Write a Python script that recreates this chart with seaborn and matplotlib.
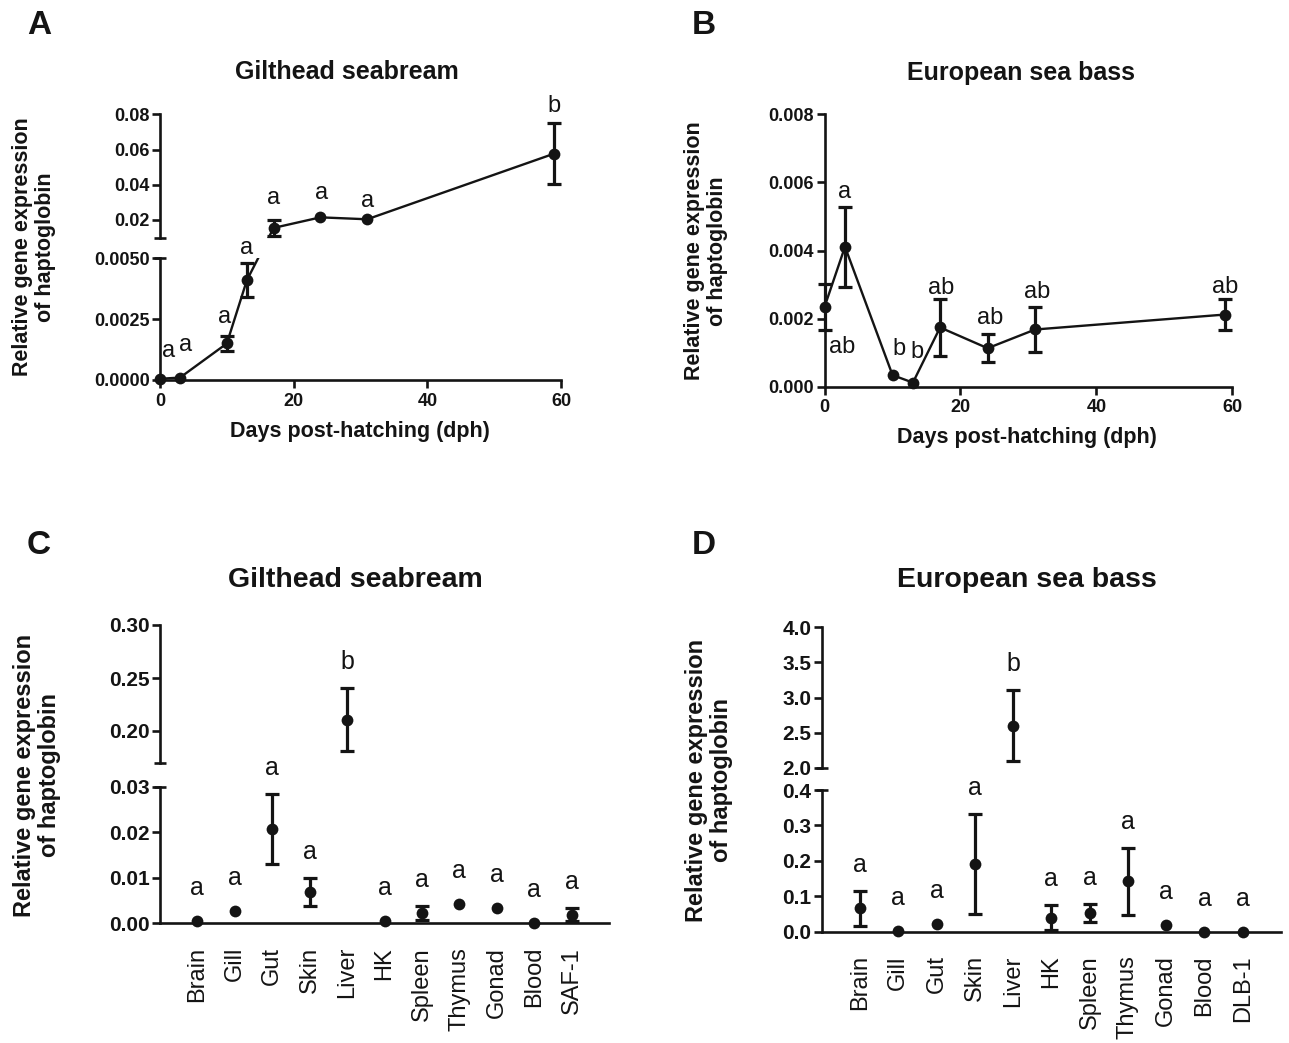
import numpy as np
import matplotlib
matplotlib.use("Agg")
import matplotlib.pyplot as plt
import seaborn as sns

# ---- data ----
days = [0, 3, 10, 13, 17, 24, 31, 59]

seabream_dev_mean = [0.00005, 0.0001, 0.0015, 0.0041, 0.0155, 0.0215, 0.0204, 0.0577]
seabream_dev_err = [0, 0, 0.0003, 0.0007, 0.0045, 0, 0, 0.0174]
seabream_dev_letters = ["a", "a", "a", "a", "a", "a", "a", "b"]

seabass_dev_mean = [0.00235, 0.00411, 0.00034, 0.00012, 0.00174, 0.00113, 0.00168, 0.00212]
seabass_dev_err = [0.00068, 0.00117, 0, 0, 0.00083, 0.00041, 0.00065, 0.00046]
seabass_dev_letters = ["ab", "a", "b", "b", "ab", "ab", "ab", "ab"]

seabream_tissues = ["Brain", "Gill", "Gut", "Skin", "Liver", "HK", "Spleen",
                    "Thymus", "Gonad", "Blood", "SAF-1"]
seabream_tis_mean = [0.0004, 0.0026, 0.0207, 0.0069, 0.2105, 0.0004, 0.0023,
                     0.0042, 0.0034, 0.0001, 0.0019]
seabream_tis_err = [0, 0, 0.0076, 0.0031, 0.0297, 0, 0.0015, 0, 0, 0, 0.0015]
seabream_tis_letters = ["a", "a", "a", "a", "b", "a", "a", "a", "a", "a", "a"]

seabass_tissues = ["Brain", "Gill", "Gut", "Skin", "Liver", "HK", "Spleen",
                   "Thymus", "Gonad", "Blood", "DLB-1"]
seabass_tis_mean = [0.066, 0.002, 0.022, 0.191, 2.60, 0.040, 0.052, 0.142,
                    0.019, 0.0005, 0.0005]
seabass_tis_err = [0.049, 0, 0, 0.141, 0.506, 0.034, 0.026, 0.094, 0, 0, 0]
seabass_tis_letters = ["a", "a", "a", "a", "b", "a", "a", "a", "a", "a", "a"]

# letter placement for the time-course panels (pixels from the point centre)
seabream_letter_pos = [(9, 22), (6, 27), (-2, 20), (0, 26), (0, 24), (1, 18), (0, 12), (0, 42)]
seabass_letter_pos = [(18, -46), (0, 49), (6, 20), (4, 25), (1, 33), (2, 24), (2, 31), (0, 22)]

INK = "#141414"
W, H = 1289, 1043

sns.set_theme(style="ticks")
plt.rcParams["font.family"] = ["Liberation Sans", "DejaVu Sans"]
plt.rcParams["axes.edgecolor"] = INK

fig = plt.figure(figsize=(W / 100, H / 100), dpi=100)
fig.patch.set_facecolor("white")


def box(left, top, right, bottom):
    return fig.add_axes([left / W, 1 - bottom / H, (right - left) / W, (bottom - top) / H])


def ftext(x, y, s, **kw):
    fig.text(x / W, 1 - y / H, s, color=INK, **kw)


def frame(ax, xlim, ylim, yticks, fmt, size, bottom=True):
    ax.set_xlim(*xlim)
    ax.set_ylim(*ylim)
    ax.set_yticks(yticks)
    ax.set_yticklabels([fmt.format(t) for t in yticks], fontsize=size,
                       fontweight="bold", color=INK)
    sns.despine(ax=ax, bottom=not bottom)
    ax.spines["left"].set_linewidth(1.9)
    ax.spines["bottom"].set_linewidth(1.9)
    ax.tick_params(axis="y", length=6, width=1.9, pad=1.5, colors=INK)
    if not bottom:
        ax.set_xticks([])
    ax.patch.set_alpha(0)
    ax.grid(False)


def break_cap(ax, y):
    ax.plot([0], [y], marker="_", ms=9, mew=1.9, color=INK,
            transform=ax.get_yaxis_transform(), clip_on=False)


def shifted(ax_from, ax_to, x, y):
    disp = ax_from.transData.transform(np.column_stack([x, y]))
    return ax_to.transData.inverted().transform(disp)[:, 1]


def points(ax, x, y, err):
    x, y, err = np.asarray(x, float), np.asarray(y, float), np.asarray(err, float)
    has = err > 0
    if has.any():
        ax.errorbar(x[has], y[has], yerr=err[has], fmt="none", ecolor=INK,
                    elinewidth=2.3, capsize=4.7, capthick=2.3, clip_on=False, zorder=4)
    sns.scatterplot(x=x, y=y, ax=ax, color=INK, s=72, linewidth=0,
                    zorder=5, clip_on=False, legend=False)


def x_days(ax, size):
    ax.set_xticks([0, 20, 40, 60])
    ax.set_xticklabels(["0", "20", "40", "60"], fontsize=size, fontweight="bold", color=INK)
    ax.tick_params(axis="x", length=6, width=1.9, pad=3, colors=INK)


def x_tissues(ax, labels):
    ax.set_xticks(range(len(labels)))
    ax.set_xticklabels(labels, rotation=90, fontsize=17, color=INK)
    ax.tick_params(axis="x", length=0, pad=17)


ylab = "Relative gene expression\nof haptoglobin"

# ---------------- A: gilthead seabream, development ----------------
a_hi = box(160, 114.3, 561, 237.6)
a_lo = box(160, 258.3, 561, 380)
frame(a_hi, (0, 60), (0.01, 0.08), [0.02, 0.04, 0.06, 0.08], "{:.2f}", 13, bottom=False)
frame(a_lo, (0, 60), (0, 0.005), [0, 0.0025, 0.005], "{:.4f}", 13)
x_days(a_lo, 13)
break_cap(a_hi, 0.01)
break_cap(a_lo, 0.005)

m = np.array(seabream_dev_mean)
d = np.array(days, float)
lo_line = np.where(m <= 0.005, m, shifted(a_hi, a_lo, d, m))
hi_line = np.where(m >= 0.01, m, shifted(a_lo, a_hi, d, m))
sns.lineplot(x=d, y=lo_line, ax=a_lo, color=INK, linewidth=1.7, errorbar=None)
sns.lineplot(x=d, y=hi_line, ax=a_hi, color=INK, linewidth=1.7, errorbar=None)
lo = m <= 0.005
points(a_lo, d[lo], m[lo], np.array(seabream_dev_err)[lo])
points(a_hi, d[~lo], m[~lo], np.array(seabream_dev_err)[~lo])
a_hi.set_ylim(0.01, 0.08)
a_lo.set_ylim(0, 0.005)
a_hi.set_xlim(0, 60)
a_lo.set_xlim(0, 60)
for x, y, let, (dx, dy) in zip(d, m, seabream_dev_letters, seabream_letter_pos):
    ax = a_lo if y <= 0.005 else a_hi
    ax.annotate(let, (x, y), xytext=(dx, dy), textcoords="offset pixels",
                ha="center", va="baseline", fontsize=17, color=INK)

# ---------------- B: European sea bass, development ----------------
b = box(824.6, 114.3, 1232.2, 386.7)
frame(b, (0, 60), (0, 0.008), [0, 0.002, 0.004, 0.006, 0.008], "{:.3f}", 13)
x_days(b, 13)
sns.lineplot(x=days, y=seabass_dev_mean, ax=b, color=INK, linewidth=1.7, errorbar=None)
points(b, days, seabass_dev_mean, seabass_dev_err)
b.set_xlim(0, 60)
b.set_ylim(0, 0.008)
for x, y, let, (dx, dy) in zip(days, seabass_dev_mean, seabass_dev_letters, seabass_letter_pos):
    b.annotate(let, (x, y), xytext=(dx, dy), textcoords="offset pixels",
               ha="center", va="baseline", fontsize=17, color=INK)


# ---------------- C / D: tissues ----------------
def tissue_panel(left, right, top_hi, bot_hi, top_lo, bot_lo, labels, mean, err, letters,
                 hi_lim, hi_ticks, lo_lim, lo_ticks, fmt):
    ax_hi = box(left, top_hi, right, bot_hi)
    ax_lo = box(left, top_lo, right, bot_lo)
    xl = (-1, len(labels))
    frame(ax_hi, xl, hi_lim, hi_ticks, fmt, 15, bottom=False)
    frame(ax_lo, xl, lo_lim, lo_ticks, fmt, 15)
    x_tissues(ax_lo, labels)
    break_cap(ax_hi, hi_lim[0])
    break_cap(ax_lo, lo_lim[1])
    x = np.arange(len(labels))
    mean = np.array(mean)
    err = np.array(err)
    up = mean >= hi_lim[0]
    points(ax_lo, x[~up], mean[~up], err[~up])
    points(ax_hi, x[up], mean[up], err[up])
    for axx, lim in ((ax_hi, hi_lim), (ax_lo, lo_lim)):
        axx.set_xlim(*xl)
        axx.set_ylim(*lim)
    for i in x:
        target = ax_hi if up[i] else ax_lo
        off = 19 if err[i] > 0 else 26
        target.annotate(letters[i], (i, mean[i] + err[i]), xytext=(0, off),
                        textcoords="offset pixels", ha="center", va="baseline",
                        fontsize=18, color=INK)


tissue_panel(160, 609, 625, 762.8, 786.5, 923.3, seabream_tissues, seabream_tis_mean,
             seabream_tis_err, seabream_tis_letters, (0.17, 0.30), [0.20, 0.25, 0.30],
             (0, 0.03), [0, 0.01, 0.02, 0.03], "{:.2f}")
tissue_panel(821.7, 1281, 627.3, 767.7, 790, 931.7, seabass_tissues, seabass_tis_mean,
             seabass_tis_err, seabass_tis_letters, (2.0, 4.0), [2.0, 2.5, 3.0, 3.5, 4.0],
             (0, 0.4), [0, 0.1, 0.2, 0.3, 0.4], "{:.1f}")

# ---------------- text ----------------
for s, x, y in (("A", 39, 25), ("B", 704, 25), ("C", 39, 545), ("D", 704, 545)):
    ftext(x, y, s, fontsize=24, fontweight="bold", ha="center", va="center")

ftext(347, 72, "Gilthead seabream", fontsize=18, fontweight="bold", ha="center", va="center")
ftext(1021, 73, "European sea bass", fontsize=18, fontweight="bold", ha="center", va="center")
ftext(355, 580, "Gilthead seabream", fontsize=20.5, fontweight="bold", ha="center", va="center")
ftext(1027, 580, "European sea bass", fontsize=20.5, fontweight="bold", ha="center", va="center")

ftext(360, 432, "Days post-hatching (dph)", fontsize=15.5, fontweight="bold", ha="center", va="center")
ftext(1027, 438, "Days post-hatching (dph)", fontsize=15.5, fontweight="bold", ha="center", va="center")

for x, y, fs in ((34, 247, 15.5), (706, 251, 15.5), (37, 775, 17), (709, 780, 17)):
    ftext(x, y, ylab, fontsize=fs, fontweight="bold", rotation=90, ha="center",
          va="center", multialignment="center", linespacing=1.15)

fig.savefig("out.png", dpi=100, facecolor="white")
